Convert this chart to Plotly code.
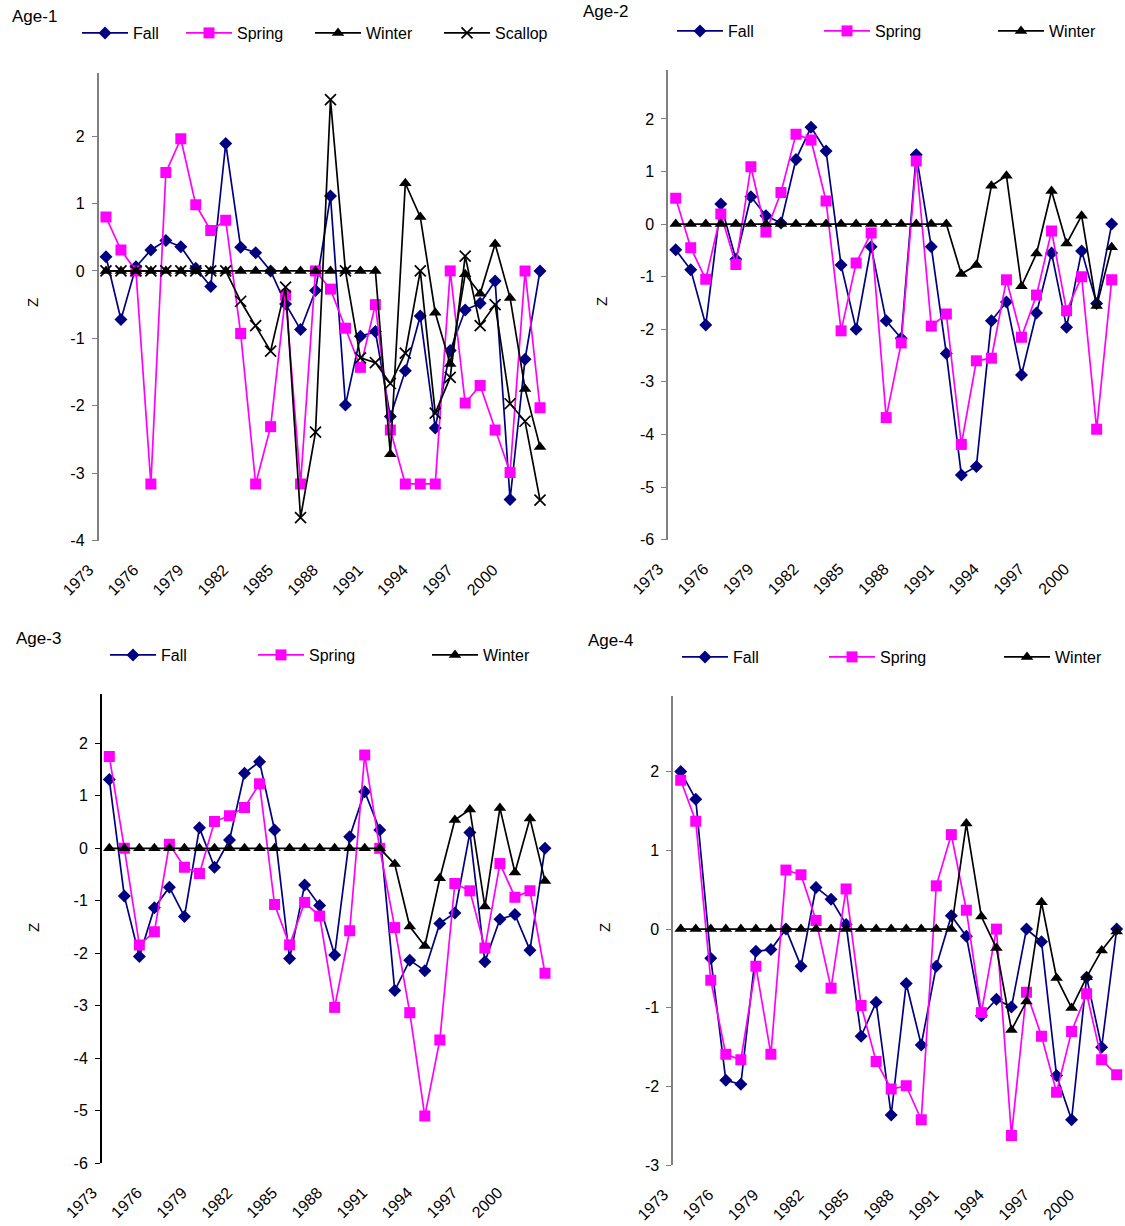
import plotly.graph_objects as go

# ---------------- data ----------------
years = list(range(1973, 2003))
tick_years = [1973, 1976, 1979, 1982, 1985, 1988, 1991, 1994, 1997, 2000]

age1_fall = [0.21, -0.72, 0.06, 0.31, 0.45, 0.36, 0.04, -0.23, 1.89, 0.35,
             0.27, 0.00, -0.49, -0.87, -0.29, 1.11, -1.99, -0.97, -0.90, -2.16,
             -1.48, -0.67, -2.33, -1.18, -0.58, -0.48, -0.15, -3.39, -1.31, 0.00]
age1_spring = [0.80, 0.31, 0.00, -3.16, 1.46, 1.96, 0.98, 0.60, 0.75, -0.93,
               -3.16, -2.31, -0.36, -3.16, 0.00, -0.27, -0.85, -1.43, -0.50, -2.36,
               -3.16, -3.16, -3.16, 0.00, -1.96, -1.70, -2.36, -2.99, 0.00, -2.03]
age1_winter = [0.0] * 19 + [-2.72, 1.30, 0.80, -0.62, -1.38, -0.05, -0.34, 0.40, -0.40, -1.75, -2.61]
age1_scallop = [0.0] * 9 + [-0.45, -0.81, -1.19, -0.24, -3.66, -2.39, 2.54, 0.00, -1.29, -1.36,
                            -1.67, -1.22, 0.00, -2.11, -1.58, 0.22, -0.81, -0.50, -1.97, -2.23, -3.40]

age2_fall = [-0.49, -0.87, -1.92, 0.38, -0.67, 0.52, 0.16, 0.02, 1.23, 1.84,
             1.39, -0.78, -2.00, -0.43, -1.84, -2.17, 1.32, -0.43, -2.46, -4.77,
             -4.61, -1.84, -1.48, -2.87, -1.69, -0.55, -1.96, -0.51, -1.51, 0.00]
age2_spring = [0.49, -0.45, -1.05, 0.19, -0.77, 1.09, -0.15, 0.60, 1.71, 1.60,
               0.44, -2.03, -0.74, -0.17, -3.68, -2.26, 1.20, -1.94, -1.71, -4.19,
               -2.60, -2.55, -1.06, -2.15, -1.35, -0.13, -1.65, -1.00, -3.90, -1.06]
age2_winter = [0.0] * 19 + [-0.95, -0.78, 0.73, 0.92, -1.18, -0.56, 0.63, -0.37, 0.16, -1.56, -0.44]

age3_fall = [1.31, -0.91, -2.06, -1.13, -0.74, -1.30, 0.39, -0.36, 0.16, 1.43,
             1.65, 0.35, -2.10, -0.70, -1.09, -2.03, 0.22, 1.08, 0.35, -2.71,
             -2.13, -2.33, -1.43, -1.23, 0.30, -2.16, -1.35, -1.26, -1.94, 0.00]
age3_spring = [1.75, 0.00, -1.84, -1.59, 0.08, -0.36, -0.48, 0.51, 0.62, 0.78,
               1.23, -1.07, -1.84, -1.03, -1.29, -3.03, -1.57, 1.78, 0.00, -1.51,
               -3.13, -5.10, -3.65, -0.67, -0.81, -1.90, -0.29, -0.93, -0.81, -2.38]
age3_winter = [0.0] * 19 + [-0.30, -1.49, -1.86, -0.57, 0.54, 0.74, -1.11, 0.77, -0.46, 0.57, -0.62]

age4_fall = [2.00, 1.65, -0.37, -1.92, -1.97, -0.28, -0.26, 0.00, -0.47, 0.53,
             0.38, 0.06, -1.36, -0.93, -2.36, -0.69, -1.47, -0.47, 0.17, -0.09,
             -1.10, -0.89, -0.99, 0.00, -0.16, -1.86, -2.42, -0.61, -1.50, 0.00]
age4_spring = [1.89, 1.37, -0.65, -1.59, -1.66, -0.47, -1.59, 0.75, 0.69, 0.11,
               -0.75, 0.51, -0.97, -1.68, -2.03, -1.99, -2.42, 0.55, 1.20, 0.24,
               -1.06, 0.00, -2.62, -0.80, -1.36, -2.07, -1.30, -0.82, -1.66, -1.85]
age4_winter = [0.0] * 19 + [1.34, 0.16, -0.24, -1.28, -0.92, 0.34, -0.62, -1.00, -0.61, -0.27, -0.03]

# ---------------- styles ----------------
W, H = 1125, 1226
FONT = "Liberation Sans, Arial, sans-serif"

STYLE = {
    "Fall": dict(line=dict(color="#000080", width=1.7),
                 marker=dict(symbol="diamond", size=10, color="#000080")),
    "Spring": dict(line=dict(color="#FF00FF", width=1.7),
                   marker=dict(symbol="square", size=11, color="#FF00FF")),
    "Winter": dict(line=dict(color="#000000", width=1.7),
                   marker=dict(symbol="triangle-up", size=11, color="#000000")),
    "Scallop": dict(line=dict(color="#000000", width=1.7),
                    marker=dict(symbol="x-thin", size=11, color="#000000",
                                line=dict(color="#000000", width=1.7))),
}

panels = [
    dict(title="Age-1", title_xy=(10, 17), z_xy=(32, 303),
         xpx=(98.5, 547.5), ypx=(72.7, 540.6), yr=(-4, 2.94), axcol="#808080", zcol="#000000",
         series=[("Fall", age1_fall), ("Spring", age1_spring), ("Winter", age1_winter), ("Scallop", age1_scallop)],
         leg_marker=[105, 209, 338, 467], leg_y=33),
    dict(title="Age-2", title_xy=(581, 12), z_xy=(601, 302),
         xpx=(668.2, 1119.2), ypx=(70, 539.6), yr=(-6, 2.93), axcol="#808080", zcol="#000000",
         series=[("Fall", age2_fall), ("Spring", age2_spring), ("Winter", age2_winter)],
         leg_marker=[700, 847, 1021], leg_y=31),
    dict(title="Age-3", title_xy=(14, 638), z_xy=(33, 928),
         xpx=(101.8, 552.5), ypx=(694, 1163.3), yr=(-6, 2.94), axcol="#000000", zcol="#000000",
         series=[("Fall", age3_fall), ("Spring", age3_spring), ("Winter", age3_winter)],
         leg_marker=[133, 281, 455], leg_y=655),
    dict(title="Age-4", title_xy=(586, 640), z_xy=(604, 928),
         xpx=(673.2, 1124.2), ypx=(696, 1165.4), yr=(-3, 2.96), axcol="#808080", zcol="#808080",
         series=[("Fall", age4_fall), ("Spring", age4_spring), ("Winter", age4_winter)],
         leg_marker=[705, 852, 1027], leg_y=657),
]

fig = go.Figure()
layout = dict(template="none", width=W, height=H, margin=dict(l=0, r=0, t=0, b=0, autoexpand=False),
              paper_bgcolor="white", plot_bgcolor="white", showlegend=True,
              font=dict(family=FONT, size=15, color="black"),
              annotations=[])

leg_n = 0
ITEMW = 46
for i, p in enumerate(panels, start=1):
    sfx = "" if i == 1 else str(i)
    xdom = [p["xpx"][0] / W, p["xpx"][1] / W]
    ydom = [1 - p["ypx"][1] / H, 1 - p["ypx"][0] / H]
    ymin, ymax = p["yr"]
    for (name, vals), mx in zip(p["series"], p["leg_marker"]):
        leg_n += 1
        lid = "legend" if leg_n == 1 else f"legend{leg_n}"
        st = STYLE[name]
        fig.add_trace(go.Scatter(x=years, y=vals, name=name, mode="lines+markers",
                                 line=st["line"], marker=st["marker"], showlegend=True,
                                 xaxis="x" + sfx, yaxis="y" + sfx, legend=lid))
        layout[lid] = dict(x=(mx - (ITEMW / 2 + 5)) / W, y=1 - p["leg_y"] / H, xanchor="left", yanchor="middle",
                           orientation="h", bgcolor="rgba(0,0,0,0)", borderwidth=0,
                           itemwidth=ITEMW, font=dict(family=FONT, size=16, color="black"),
                           tracegroupgap=0, visible=True)
    ytv = list(range(int(ymin), int(ymax) + 1))
    # main x axis (labels at the bottom)
    layout["xaxis" + sfx] = dict(domain=xdom, anchor="y" + sfx, range=[1972.5, 2002.5], automargin=False,
                                 showline=False, showgrid=False, zeroline=False,
                                 tickmode="array", tickvals=tick_years, ticktext=[str(y) for y in tick_years],
                                 tickangle=-45, ticks="", ticklabelstandoff=16, ticklabelshift=-17,
                                 tickfont=dict(family=FONT, size=16, color="black"))
    # y axis
    layout["yaxis" + sfx] = dict(domain=ydom, anchor="x" + sfx, range=[ymin, ymax], automargin=False,
                                 showline=True, linecolor=p["axcol"], linewidth=1.5,
                                 ticks="outside", ticklen=5, tickcolor=p["axcol"], tickwidth=1,
                                 tickmode="array", tickvals=ytv, ticktext=[str(v) for v in ytv],
                                 ticklabelstandoff=4,
                                 showgrid=False, zeroline=False,
                                 tickfont=dict(family=FONT, size=16, color="black"))
    # category axis crossing at zero
    zpos = ydom[0] + (0 - ymin) / (ymax - ymin) * (ydom[1] - ydom[0])
    zax = "xaxis" + str(i + 4)
    layout[zax] = dict(overlaying="x" + sfx, anchor="free", position=zpos, domain=xdom, automargin=False,
                       range=[1972.5, 2002.5], side="bottom",
                       showline=True, linecolor=p["zcol"], linewidth=1.5,
                       ticks="outside", ticklen=4, tickcolor=p["zcol"], tickwidth=1,
                       tickmode="array", tickvals=[1972.5 + k for k in range(31)],
                       showticklabels=False, showgrid=False, zeroline=False)
    layout["annotations"].append(dict(text=p["title"], x=p["title_xy"][0] / W, y=1 - p["title_xy"][1] / H,
                                      xref="paper", yref="paper", xanchor="left", yanchor="middle",
                                      showarrow=False, font=dict(family=FONT, size=17, color="black")))
    layout["annotations"].append(dict(text="Z", x=p["z_xy"][0] / W, y=1 - p["z_xy"][1] / H,
                                      xref="paper", yref="paper", xanchor="center", yanchor="middle",
                                      textangle=-90, showarrow=False,
                                      font=dict(family=FONT, size=15, color="black")))

fig.update_layout(**layout)
fig.write_html("out.html", config={"displayModeBar": False},
               post_script="document.body.style.margin='0px';document.body.style.overflow='hidden';")
